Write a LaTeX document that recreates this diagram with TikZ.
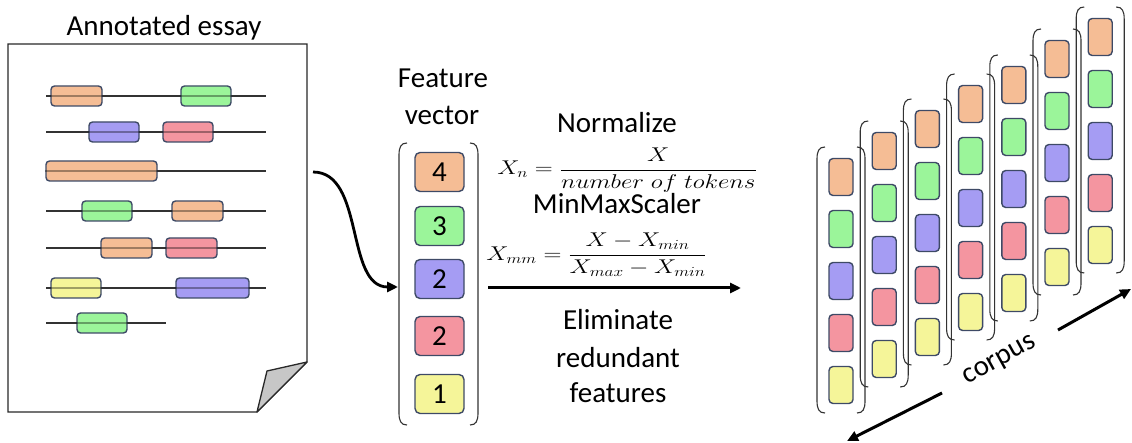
\documentclass[tikz,border=0pt]{standalone}
\usepackage{fontspec}
\setmainfont{Carlito}
\usepackage{graphicx}
\usetikzlibrary{arrows.meta}
\definecolor{cor}{RGB}{245,189,149}
\definecolor{cgr}{RGB}{155,245,154}
\definecolor{cbl}{RGB}{165,156,243}
\definecolor{cre}{RGB}{244,149,160}
\definecolor{cye}{RGB}{245,245,153}
\definecolor{edge}{RGB}{62,74,102}
\definecolor{pageline}{RGB}{40,40,40}
\newcommand\vbrack[4]{%
 \draw[brack] ({#1+8},#3) .. controls ({#1+2},#3) and (#1,{#3+4}) .. (#1,{#3+12}) -- (#1,{#4-12}) .. controls (#1,{#4-4}) and ({#1+2},#4) .. ({#1+8},#4);
 \draw[brack] ({#2-8},#3) .. controls ({#2-2},#3) and (#2,{#3+4}) .. (#2,{#3+12}) -- (#2,{#4-12}) .. controls (#2,{#4-4}) and ({#2-2},#4) .. ({#2-8},#4);
}
\newcommand\essayrow[3]{% y, x start, x end
 \draw[tline] (#2,#1) -- (#3,#1);
}
\begin{document}
\begin{tikzpicture}[x=1pt,y=-1pt,
  lbl/.style={font=\fontsize{29}{34}\selectfont, inner sep=0, anchor=base},
  mth/.style={font=\fontsize{24}{28}\selectfont, inner sep=0},
  ebox/.style={draw=edge, line width=1.4pt, rounded corners=3.5pt, minimum height=20pt, inner sep=0},
  fbox/.style={draw=edge, line width=1.4pt, rounded corners=5pt, minimum width=49pt, minimum height=39pt, inner sep=0, font=\fontsize{29}{34}\selectfont},
  vbox/.style={draw=edge, line width=1.4pt, rounded corners=4pt, minimum width=24pt, minimum height=37pt, inner sep=0},
  brack/.style={draw=black!80, line width=1.1pt},
  tline/.style={draw=black!80, line width=1.6pt},
  tover/.style={draw=black, line width=1.6pt, opacity=0.35},
  arr/.style={-{Triangle[length=11pt,width=10pt]}, line width=3pt, black},
]
\useasboundingbox (0,0) rectangle (1132,443);

% ---------- annotated essay ----------
\node[lbl] (title) at (164,36) {Annotated essay};
\draw[pageline, line width=1.3pt, fill=white] (8,44) -- (307,44) -- (307,362) -- (257,412) -- (8,412) -- cycle;
\draw[pageline, line width=1.3pt, fill=black!22, line join=round] (307,362) -- (267,371) -- (257,412) -- cycle;

\essayrow{96}{46}{266}
\essayrow{132}{46}{266}
\essayrow{171}{46}{266}
\essayrow{211}{46}{266}
\essayrow{248}{46}{266}
\essayrow{288}{46}{266}
\essayrow{323}{46}{166}

\node[ebox, fill=cor, minimum width=51pt] (e1a) at (76.5,96) {};
\node[ebox, fill=cgr, minimum width=50pt] (e1b) at (206,96) {};
\node[ebox, fill=cbl, minimum width=50pt] (e2a) at (114,132) {};
\node[ebox, fill=cre, minimum width=50pt] (e2b) at (188,132) {};
\node[ebox, fill=cor, minimum width=111pt] (e3a) at (101.5,171) {};
\node[ebox, fill=cgr, minimum width=50pt] (e4a) at (107,211) {};
\node[ebox, fill=cor, minimum width=51pt] (e4b) at (197.5,211) {};
\node[ebox, fill=cor, minimum width=51pt] (e5a) at (126.5,248) {};
\node[ebox, fill=cre, minimum width=51pt] (e5b) at (191.5,248) {};
\node[ebox, fill=cye, minimum width=50pt] (e6a) at (76,288) {};
\node[ebox, fill=cbl, minimum width=73pt] (e6b) at (212.5,288) {};
\node[ebox, fill=cgr, minimum width=50pt] (e7a) at (102,323) {};

\draw[tover] (e1a.west) -- (e1a.east); \draw[tover] (e1b.west) -- (e1b.east);
\draw[tover] (e2a.west) -- (e2a.east); \draw[tover] (e2b.west) -- (e2b.east);
\draw[tover] (e3a.west) -- (e3a.east);
\draw[tover] (e4a.west) -- (e4a.east); \draw[tover] (e4b.west) -- (e4b.east);
\draw[tover] (e5a.west) -- (e5a.east); \draw[tover] (e5b.west) -- (e5b.east);
\draw[tover] (e6a.west) -- (e6a.east); \draw[tover] (e6b.west) -- (e6b.east);
\draw[tover] (e7a.west) -- (e7a.east);

\coordinate (essayout) at (313,172);

% ---------- feature vector ----------
\node[lbl] (fv1) at (443,88) {Feature};
\node[lbl] (fv2) at (442,125) {vector};
\vbrack{399}{478}{143}{425}
\node[fbox, fill=cor] (f1) at (439.5,172) {4};
\node[fbox, fill=cgr] (f2) at (439.5,226) {3};
\node[fbox, fill=cbl] (f3) at (439.5,279) {2};
\node[fbox, fill=cre] (f4) at (439.5,336) {2};
\node[fbox, fill=cye] (f5) at (439.5,394) {1};
\coordinate (fvin) at (398,287);
\coordinate (fvout) at (488,288);

\draw[arr, line width=2.8pt] (essayout) .. controls (365,172) and (345,287) .. (fvin);

% ---------- processing ----------
\node[lbl] (norm) at (617,133) {Normalize};
\node[mth] (fn) at (627,170) {\scalebox{1}[0.8]{$\displaystyle X_n=\frac{X}{number\;of\;tokens}$}};
\node[lbl] (mms) at (617,214) {MinMaxScaler};
\node[mth] (fm) at (596.5,255) {\scalebox{1}[0.8]{$\displaystyle X_{mm}=\frac{X-X_{min}}{X_{max}-X_{min}}$}};
\coordinate (corpin) at (741,288);
\draw[arr] (fvout) -- (corpin);
\node[lbl] (el1) at (618,330) {Eliminate};
\node[lbl] (el2) at (618,367) {redundant};
\node[lbl] (el3) at (618,402) {features};

% ---------- corpus ----------
\foreach \T [count=\i from 0] in {147,121,99,74,55,29,7} {
  \pgfmathsetmacro\L{817+43.2*\i}
  \pgfmathsetmacro\R{\L+48}
  \pgfmathsetmacro\B{\T+266}
  \vbrack{\L}{\R}{\T}{\B}
  \foreach \c [count=\k from 0] in {cor,cgr,cbl,cre,cye} {
    \node[vbox, fill=\c] (c\i-\k) at ({\L+24},{\T+30+52*\k}) {};
  }
}
\coordinate (ca1) at (942,393);
\coordinate (ca2) at (847,441);
\coordinate (cb1) at (1058,330);
\coordinate (cb2) at (1131,289);
\draw[arr] (ca1) -- (ca2);
\draw[arr] (cb1) -- (cb2);
\node[font=\fontsize{29}{34}\selectfont, inner sep=0, rotate=29] (corpus) at (1000,361) {corpus};
\end{tikzpicture}
\end{document}
